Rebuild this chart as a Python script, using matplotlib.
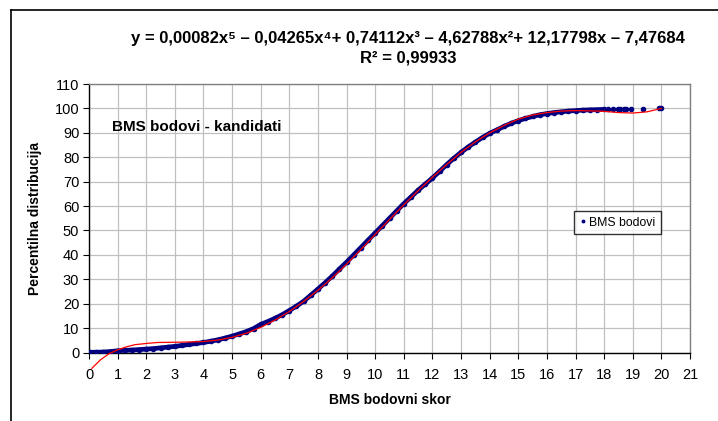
import matplotlib
matplotlib.use("Agg")
import matplotlib.pyplot as plt
from matplotlib.lines import Line2D

# ---------------- data ----------------
bms_x = [0, 0.25, 0.5, 0.75, 1, 1.25, 1.5, 1.75, 2, 2.25, 2.5, 2.75, 3, 3.25, 3.5, 3.75,
         4, 4.25, 4.5, 4.75, 5, 5.25, 5.5, 5.75, 6, 6.25, 6.5, 6.75, 7, 7.25, 7.5, 7.75,
         8, 8.25, 8.5, 8.75, 9, 9.25, 9.5, 9.75, 10, 10.25, 10.5, 10.75, 11, 11.25, 11.5, 11.75,
         12, 12.25, 12.5, 12.75, 13, 13.25, 13.5, 13.75, 14, 14.25, 14.5, 14.75, 15, 15.25,
         15.5, 15.75, 16, 16.25, 16.5, 16.75, 17, 17.25, 17.5, 17.75, 18, 18.15, 18.3, 18.47,
         18.55, 18.7, 18.75, 18.94, 19.35, 19.93, 20.0]
bms_y = [0.1, 0.1, 0.2, 0.4, 0.7, 0.9, 1.0, 1.2, 1.4, 1.6, 1.9, 2.2, 2.5, 2.9, 3.3, 3.7,
         4.1, 4.6, 5.2, 5.9, 6.7, 7.6, 8.6, 9.8, 11.5, 12.7, 14.0, 15.5, 17.2, 19.0, 21.0, 23.5,
         26.0, 28.6, 31.3, 34.2, 37.0, 40.0, 43.0, 46.0, 49.0, 52.0, 55.0, 58.0, 61.0, 63.7, 66.5, 69.0,
         71.5, 74.2, 77.0, 79.6, 82.0, 84.2, 86.2, 88.1, 89.8, 91.2, 92.6, 93.9, 95.0, 95.9,
         96.7, 97.4, 97.9, 98.3, 98.6, 98.9, 99.1, 99.3, 99.4, 99.5, 99.6, 99.6, 99.6, 99.7,
         99.7, 99.8, 99.8, 99.9, 99.9, 100.0, 100.0]

trend_x = [0.1, 0.4, 0.7, 1.0, 1.3, 1.6, 2.0, 2.4, 3.0, 3.5, 4.0, 4.5, 5.0, 5.5, 6.0, 6.5,
           7.0, 7.5, 8.0, 8.5, 9.0, 9.5, 10, 10.5, 11, 11.5, 12, 12.5, 13, 13.5, 14, 14.5,
           15, 15.5, 16, 16.5, 17, 17.5, 18, 18.5, 19, 19.5, 20]
trend_y = [-6.5, -3.0, -0.5, 1.1, 2.3, 3.2, 3.7, 4.1, 4.2, 4.3, 4.5, 5.1, 6.2, 7.9, 10.3, 13.3,
           16.8, 20.9, 25.5, 30.6, 36.2, 42.2, 48.4, 54.5, 60.5, 66.3, 71.8, 77.0, 82.0, 86.3, 90.0, 93.0,
           95.6, 97.3, 98.3, 98.9, 99.1, 99.0, 98.8, 98.3, 98.1, 98.6, 100.0]

x_ticks = list(range(0, 22))
y_ticks = list(range(0, 111, 10))

equation = "y = 0,00082x\u2075 \u2013 0,04265x\u2074+ 0,74112x\u00b3 \u2013 4,62788x\u00b2+ 12,17798x \u2013 7,47684"
r2_text = "R\u00b2 = 0,99933"

# ---------------- figure ----------------
plt.rcParams['font.family'] = ['Liberation Sans', 'DejaVu Sans']
W, H = 718, 421
fig = plt.figure(figsize=(W / 100, H / 100), dpi=100)
fig.patch.set_facecolor("white")

ax = fig.add_axes([89 / W, 1 - 352.5 / H, 601 / W, 268.5 / H])

# dense part of the data forms a band; past x=18 the dots stand alone
n_dense = bms_x.index(18) + 1
ax.plot(bms_x[:n_dense], bms_y[:n_dense], color="#000080", lw=3.4,
        solid_capstyle="round", zorder=3)
ax.plot(bms_x, bms_y, linestyle="none", marker="o", markersize=3, color="#000080",
        label="BMS bodovi", zorder=3)
ax.plot(trend_x, trend_y, color="#ff0000", lw=0.9, zorder=4, clip_on=False)

ax.set_xlim(0, 21)
ax.set_ylim(0, 110)
ax.set_xticks(x_ticks)
ax.set_yticks(y_ticks)
ax.tick_params(axis="both", direction="out", length=4, width=0.8, color="black",
               labelsize=10.5, pad=3)
ax.tick_params(axis="x", pad=7)
ax.grid(True, color="#c0c0c0", lw=0.9)
ax.set_axisbelow(True)
for s in ("top", "right"):
    ax.spines[s].set_color("#808080")
    ax.spines[s].set_linewidth(1.0)
for s in ("left", "bottom"):
    ax.spines[s].set_color("black")
    ax.spines[s].set_linewidth(1.0)

ax.set_xlabel("BMS bodovni skor", fontsize=10, fontweight="bold", labelpad=8)
ax.set_ylabel("Percentilna distribucija", fontsize=10, fontweight="bold", labelpad=9)

fig.text(408 / W, 1 - 39 / H, equation, ha="center", va="center",
         fontsize=12, fontweight="bold")
fig.text(408 / W, 1 - 58 / H, r2_text, ha="center", va="center",
         fontsize=12, fontweight="bold")
fig.text(112 / W, 1 - 127 / H, "BMS bodovi - kandidati", ha="left", va="center",
         fontsize=11, fontweight="bold")

leg = ax.legend(loc="upper left", bbox_to_anchor=(574 / W, 1 - 211 / H),
                bbox_transform=fig.transFigure, frameon=True, fancybox=False,
                fontsize=8.8, handlelength=0.5, handletextpad=0.3, borderpad=0.45,
                borderaxespad=0, markerscale=0.6)
leg.get_frame().set_edgecolor("black")
leg.get_frame().set_linewidth(1.0)

# outer chart frame (continues past the picture edges)
fig.add_artist(Line2D([11 / W, 11 / W], [0, 1 - 10 / H], color="black", lw=1.2,
                      transform=fig.transFigure))
fig.add_artist(Line2D([11 / W, 1.0], [1 - 10 / H, 1 - 10 / H], color="black", lw=1.2,
                      transform=fig.transFigure))

fig.savefig("out.png", dpi=100)
